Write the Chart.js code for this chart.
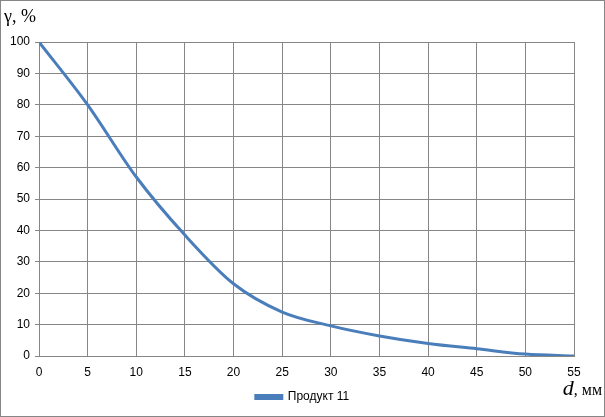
<!DOCTYPE html>
<html><head><meta charset="utf-8">
<script src="https://cdn.jsdelivr.net/npm/chart.js@4"></script>
<style>html,body{margin:0;padding:0;background:#fff}#w{width:605px;height:417px;position:relative}</style>
</head><body><div id="w"><canvas id="c"></canvas></div>
<script>
const xValues = [0, 5, 10, 15, 20, 25, 30, 35, 40, 45, 50, 55];
const yValues = [100, 80, 57, 38.5, 23, 14, 9.6, 6.4, 4.0, 2.3, 0.6, 0];
const seriesName = 'Продукт 11';
const yTitle = 'γ, %';
const xTitleVar = 'd';
const xTitleUnit = ', мм';

const frame = {
  id: 'frame',
  beforeDraw(chart) {
    const ctx = chart.ctx;
    ctx.save();
    ctx.fillStyle = '#fff';
    ctx.fillRect(0, 0, chart.width, chart.height);
    ctx.restore();
  },
  afterDraw(chart) {
    const ctx = chart.ctx;
    ctx.save();
    ctx.strokeStyle = '#868686';
    ctx.lineWidth = 1;
    ctx.strokeRect(0.5, 0.5, chart.width - 1, chart.height - 1);
    ctx.fillStyle = '#000';
    ctx.textBaseline = 'alphabetic';
    ctx.font = '18px "Liberation Serif"';
    ctx.textAlign = 'left';
    ctx.fillText(yTitle, 4, 22);
    ctx.font = '16px "Liberation Serif"';
    const uw = ctx.measureText(xTitleUnit).width;
    ctx.textAlign = 'right';
    ctx.fillText(xTitleUnit, 602, 395);
    ctx.font = 'italic 22px "Liberation Serif"';
    ctx.fillText(xTitleVar, 602 - uw, 395);
    ctx.restore();
  }
};

new Chart(document.getElementById('c'), {
  type: 'line',
  data: {
    datasets: [{
      label: seriesName,
      data: xValues.map((x, i) => ({x: x, y: yValues[i]})),
      borderColor: '#4a7ebb',
      backgroundColor: '#4a7ebb',
      borderWidth: 3,
      pointRadius: 0,
      cubicInterpolationMode: 'monotone',
      fill: false
    }]
  },
  options: {
    responsive: true,
    maintainAspectRatio: false,
    animation: false,
    devicePixelRatio: 1,
    layout: {padding: {left: 0, right: 0, top: 42, bottom: 4}},
    plugins: {
      legend: {
        position: 'bottom',
        labels: {boxWidth: 26, boxHeight: 3, padding: 8, color: '#000',
                 font: {family: '"Liberation Sans"', size: 12}}
      },
      tooltip: {enabled: false}
    },
    scales: {
      x: {
        type: 'linear', min: 0, max: 55,
        afterFit(s) { s.height = 27; },
        ticks: {stepSize: 5, color: '#000', padding: 9, maxRotation: 0,
                font: {family: '"Liberation Sans"', size: 12}},
        grid: {color: '#868686', lineWidth: 1, drawTicks: false},
        border: {color: '#868686'}
      },
      y: {
        min: 0, max: 100,
        afterFit(s) { s.width = 39; },
        ticks: {stepSize: 10, color: '#000', padding: 5,
                font: {family: '"Liberation Sans"', size: 12}},
        grid: {color: '#868686', lineWidth: 1, tickLength: 4},
        border: {color: '#868686'}
      },
      yRight: {
        position: 'right', min: 0, max: 100,
        afterFit(s) { s.width = 31; },
        ticks: {display: false},
        grid: {display: false, drawTicks: false},
        border: {display: false}
      }
    }
  },
  plugins: [frame]
});
</script></body></html>
